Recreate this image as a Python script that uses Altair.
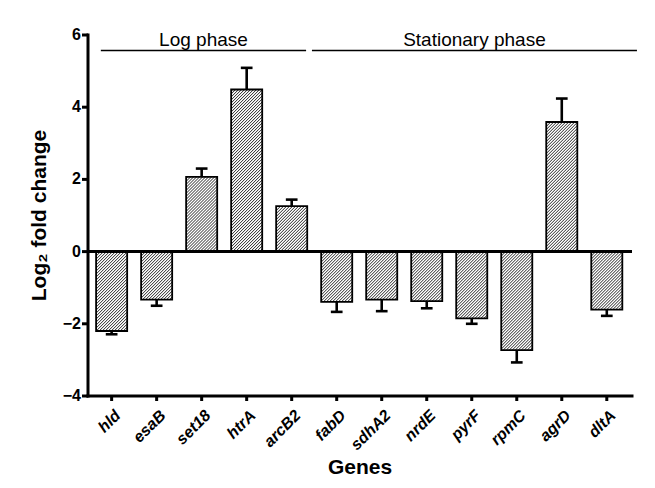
import altair as alt
import pandas as pd

# ---- data ----
genes = ["hld", "esaB", "set18", "htrA", "arcB2", "fabD", "sdhA2", "nrdE", "pyrF", "rpmC", "agrD", "dltA"]
values = [-2.20, -1.33, 2.07, 4.49, 1.26, -1.39, -1.33, -1.37, -1.85, -2.73, 3.59, -1.61]
errors = [0.09, 0.17, 0.23, 0.60, 0.18, 0.28, 0.32, 0.20, 0.15, 0.34, 0.65, 0.17]

phase_names = ["Log phase", "Stationary phase"]
phase_first = [0, 5]
phase_last = [4, 11]
phase_ext_left = [0.24, 0.55]
phase_ext_right = [0.32, 0.67]
y_ticks = [-4, -2, 0, 2, 4, 6]
x_title = "Genes"
y_title = "Log₂ fold change"

# ---- layout ----
W, H = 544, 361
X_DOM = [-0.525, 11.56]
Y_DOM = [-4, 6]
SX = W / (X_DOM[1] - X_DOM[0])
SY = H / (Y_DOM[1] - Y_DOM[0])
HALF = 0.345
CAP = 0.13
SPACING = 3.0
FONT = "Liberation Sans"

df = pd.DataFrame({"gene": genes, "idx": list(range(len(genes))), "value": values, "err": errors})
phases = pd.DataFrame({
    "phase": phase_names,
    "start": [f - e for f, e in zip(phase_first, phase_ext_left)],
    "end": [l + e for l, e in zip(phase_last, phase_ext_right)],
})
phases["mid"] = (phases["start"] + phases["end"]) / 2
phases["ly"] = 5.57

xs = alt.Scale(domain=X_DOM, nice=False, zero=False)
ys = alt.Scale(domain=Y_DOM, nice=False, zero=False)


def X(field):
    return alt.X(field, scale=xs, axis=None)


def Y(field):
    return alt.Y(field, scale=ys, axis=None)


base = alt.Chart(df).transform_calculate(
    xl=f"datum.idx - {HALF}", xr=f"datum.idx + {HALF}", zero="0",
    tip="datum.value + (datum.value < 0 ? -datum.err : datum.err)",
    cl=f"datum.idx - {CAP}", cr=f"datum.idx + {CAP}",
)

bar_fill = base.mark_bar(fill="white", stroke=None).encode(
    x=X("xl:Q"), x2="xr:Q", y=Y("value:Q"), y2="zero:Q",
)

Wpx = 2 * HALF * SX
hatch = alt.Chart(df).transform_calculate(
    Hp=f"abs(datum.value) * {SY}",
).transform_calculate(
    wlo="datum.value < 0 ? -datum.Hp : 0",
    whi="datum.value < 0 ? 0 : datum.Hp",
).transform_calculate(
    k=f"sequence(0, floor(({Wpx} + datum.whi - datum.wlo) / {SPACING}))",
).transform_flatten(["k"]).transform_calculate(
    c=f"-datum.whi + (datum.k + 0.5) * {SPACING}",
).transform_calculate(
    u0="max(0, datum.wlo + datum.c)",
    u1=f"min({Wpx}, datum.whi + datum.c)",
).transform_filter("datum.u1 > datum.u0").transform_calculate(
    hx=f"datum.idx - {HALF} + datum.u0 / {SX}",
    hy=f"(datum.u0 - datum.c) / {SY}",
    hx2=f"datum.idx - {HALF} + datum.u1 / {SX}",
    hy2=f"(datum.u1 - datum.c) / {SY}",
).mark_rule(color="#222222", strokeWidth=1.0).encode(
    x=X("hx:Q"), y=Y("hy:Q"), x2="hx2:Q", y2="hy2:Q",
)

bar_outline = base.mark_bar(fill=None, stroke="black", strokeWidth=1.8).encode(
    x=X("xl:Q"), x2="xr:Q", y=Y("value:Q"), y2="zero:Q",
)

stem = base.mark_rule(color="black", strokeWidth=2.6).encode(
    x=X("idx:Q"), y=Y("value:Q"), y2="tip:Q",
)
cap = base.mark_rule(color="black", strokeWidth=2.6).encode(
    x=X("cl:Q"), x2="cr:Q", y=Y("tip:Q"),
)

zero_line = alt.Chart(pd.DataFrame({"z": [0]})).mark_rule(color="black", strokeWidth=3).encode(
    y=Y("z:Q"),
)

phase_line = alt.Chart(phases).mark_rule(color="black", strokeWidth=1.5).encode(
    x=X("start:Q"), x2="end:Q", y=Y("ly:Q"),
)
phase_text = alt.Chart(phases).mark_text(font=FONT, fontSize=19, color="black",
                                         baseline="alphabetic", dy=-5).encode(
    x=X("mid:Q"), y=Y("ly:Q"), text="phase:N",
)

# ---- axes drawn as marks ----
y_dom_line = alt.Chart(pd.DataFrame({"x": [X_DOM[0]], "y": [Y_DOM[0]], "y2": [Y_DOM[1]]})).mark_rule(
    color="black", strokeWidth=3, strokeCap="square").encode(x=X("x:Q"), y=Y("y:Q"), y2="y2:Q")
x_dom_line = alt.Chart(pd.DataFrame({"y": [Y_DOM[0]], "x": [X_DOM[0]], "x2": [X_DOM[1]]})).mark_rule(
    color="black", strokeWidth=3, strokeCap="square").encode(x=X("x:Q"), x2="x2:Q", y=Y("y:Q"))

yt = alt.Chart(pd.DataFrame({"t": y_ticks})).transform_calculate(
    tx=f"{X_DOM[0] - 6 / SX}", tx2=f"{X_DOM[0]}", lx=f"{X_DOM[0] - 7 / SX}",
    lab="format(datum.t, 'd')",
)
y_tick_marks = yt.mark_rule(color="black", strokeWidth=3).encode(
    x=X("tx:Q"), x2="tx2:Q", y=Y("t:Q"))
y_tick_labels = yt.mark_text(font=FONT, fontSize=16, fontWeight="bold", color="black",
                             align="right", baseline="middle").encode(
    x=X("lx:Q"), y=Y("t:Q"), text="lab:N")

xt = alt.Chart(df).transform_calculate(
    ty=f"{Y_DOM[0]}", ty2=f"{Y_DOM[0] - 5 / SY}", ly=f"{Y_DOM[0] - 12 / SY}",
)
x_tick_marks = xt.mark_rule(color="black", strokeWidth=3).encode(
    x=X("idx:Q"), y=Y("ty:Q"), y2="ty2:Q")
x_tick_labels = xt.mark_text(font=FONT, fontSize=16, fontWeight="bold", fontStyle="italic",
                             color="black", angle=315, align="right", baseline="top", dx=1).encode(
    x=X("idx:Q"), y=Y("ly:Q"), text="gene:N")

titles = pd.DataFrame({
    "label": [x_title, y_title],
    "tx": [(X_DOM[0] + X_DOM[1]) / 2, X_DOM[0] - 48 / SX],
    "ty": [Y_DOM[0] - 72 / SY, (Y_DOM[0] + Y_DOM[1]) / 2],
    "ang": [0, 270],
})
x_title_mark = alt.Chart(titles).transform_filter("datum.ang == 0").mark_text(
    font=FONT, fontSize=21, fontWeight="bold", color="black", baseline="middle").encode(
    x=X("tx:Q"), y=Y("ty:Q"), text="label:N")
y_title_mark = alt.Chart(titles).transform_filter("datum.ang == 270").mark_text(
    font=FONT, fontSize=21, fontWeight="bold", color="black", baseline="middle", angle=270).encode(
    x=X("tx:Q"), y=Y("ty:Q"), text="label:N")

chart = alt.layer(
    bar_fill, hatch, bar_outline, stem, cap, zero_line, phase_line, phase_text,
    y_dom_line, x_dom_line, y_tick_marks, y_tick_labels, x_tick_marks, x_tick_labels,
    x_title_mark, y_title_mark,
).properties(
    width=W, height=H,
    autosize=alt.AutoSizeParams(type="none"),
    padding={"left": 80, "top": 27, "right": 15, "bottom": 88},
).configure(font=FONT).configure_view(stroke=None)

chart.save("out.html", embed_options={"renderer": "svg", "actions": False})
